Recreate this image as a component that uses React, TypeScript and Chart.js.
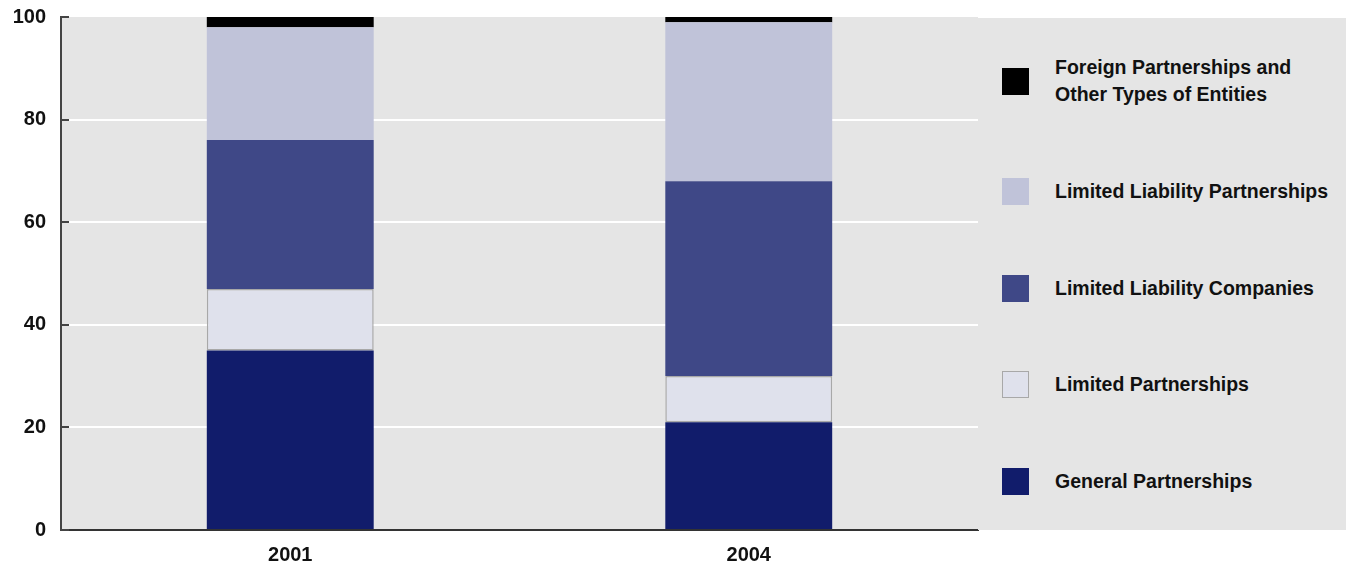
import React, { useEffect, useRef } from "react";
import { Chart, registerables } from "chart.js";

Chart.register(...registerables);

const categories = ["2001", "2004"];
const seriesNames = [
  "General Partnerships",
  "Limited Partnerships",
  "Limited Liability Companies",
  "Limited Liability Partnerships",
  "Foreign Partnerships and Other Types of Entities",
];
const generalPartnerships = [35, 21];
const limitedPartnerships = [12, 9];
const limitedLiabilityCompanies = [29, 38];
const limitedLiabilityPartnerships = [22, 31];
const foreignAndOther = [2, 1];
const yTicks = [0, 20, 40, 60, 80, 100];

const colors = ["#111c6b", "#dfe1ec", "#3f4887", "#c0c3d9", "#000000"];
const borders = ["#111c6b", "#a8a8a8", "#3f4887", "#c0c3d9", "#000000"];
const borderWidths = [0, 1.5, 0, 0, 0];
const legendLines = [
  ["Foreign Partnerships and", "Other Types of Entities"],
  ["Limited Liability Partnerships"],
  ["Limited Liability Companies"],
  ["Limited Partnerships"],
  ["General Partnerships"],
];
const legendColorIdx = [4, 3, 2, 1, 0];
const legendCenters = [81, 191, 288, 384, 481];

const FONT = "'Liberation Sans', Arial, sans-serif";

const bgPlugin = {
  id: "bgPlugin",
  beforeDraw(chart: any) {
    const { ctx, chartArea } = chart;
    ctx.save();
    ctx.fillStyle = "#e5e5e5";
    ctx.fillRect(chartArea.left, chartArea.top, chartArea.right - chartArea.left, chartArea.bottom - chartArea.top);
    ctx.restore();
  },
  afterDraw(chart: any) {
    const { ctx, chartArea } = chart;
    const y = chart.scales.y;
    ctx.save();
    ctx.strokeStyle = "#444";
    ctx.lineWidth = 2;
    yTicks.forEach((v) => {
      const py = Math.round(y.getPixelForValue(v));
      ctx.beginPath();
      ctx.moveTo(chartArea.left, py);
      ctx.lineTo(chartArea.left + 8, py);
      ctx.stroke();
    });
    ctx.restore();
  },
};

export default function App() {
  const ref = useRef<HTMLCanvasElement>(null);
  useEffect(() => {
    document.body.style.margin = "0";
    const data = [
      generalPartnerships,
      limitedPartnerships,
      limitedLiabilityCompanies,
      limitedLiabilityPartnerships,
      foreignAndOther,
    ];
    const chart = new Chart(ref.current as HTMLCanvasElement, {
      type: "bar",
      data: {
        labels: categories,
        datasets: data.map((d, i) => ({
          label: seriesNames[i],
          data: d,
          backgroundColor: colors[i],
          borderColor: borders[i],
          borderWidth: borderWidths[i],
          borderSkipped: false,
          barPercentage: 0.364,
          categoryPercentage: 1,
        })),
      },
      options: {
        animation: false,
        responsive: false,
        maintainAspectRatio: false,
        layout: { padding: { top: 17, right: 368, left: 0, bottom: 0 } },
        plugins: { legend: { display: false }, tooltip: { enabled: false } },
        scales: {
          x: {
            stacked: true,
            grid: { display: false, drawTicks: false },
            border: { display: true, color: "#333", width: 2 },
            ticks: { color: "#111", font: { family: FONT, size: 20, weight: "bold" }, padding: 13 },
            afterFit(scale: any) {
              scale.height = 39;
              scale.paddingLeft = 0;
              scale.paddingRight = 0;
            },
          },
          y: {
            stacked: true,
            min: 0,
            max: 100,
            afterBuildTicks(scale: any) {
              scale.ticks = yTicks.map((v) => ({ value: v }));
            },
            grid: {
              drawTicks: false,
              color: (c: any) => (c.tick && c.tick.value > 0 && c.tick.value < 100 ? "#ffffff" : "rgba(0,0,0,0)"),
              lineWidth: 2,
            },
            border: { display: true, color: "#444", width: 2 },
            ticks: { color: "#111", font: { family: FONT, size: 20, weight: "bold" }, padding: 15 },
            afterFit(scale: any) {
              scale.width = 61;
              scale.paddingTop = 0;
              scale.paddingBottom = 0;
            },
          },
        },
      },
      plugins: [bgPlugin],
    });
    return () => chart.destroy();
  }, []);

  return (
    <div style={{ position: "relative", width: 1346, height: 569, fontFamily: FONT }}>
      <canvas ref={ref} width={1346} height={569} style={{ width: 1346, height: 569, display: "block" }} />
      <div style={{ position: "absolute", left: 978, top: 18, width: 368, height: 512, background: "#e5e5e5" }} />
      {legendLines.map((lines, i) => {
        const ci = legendColorIdx[i];
        const cy = legendCenters[i];
        return (
          <React.Fragment key={i}>
            <div
              style={{
                position: "absolute",
                left: 1002,
                top: cy - 13.5,
                width: 27,
                height: 27,
                boxSizing: "border-box",
                background: colors[ci],
                border: borderWidths[ci] ? `1.5px solid ${borders[ci]}` : "none",
              }}
            />
            <div
              style={{
                position: "absolute",
                left: 1055,
                top: cy - (lines.length * 27) / 2,
                lineHeight: "27px",
                fontSize: 19.5,
                fontWeight: "bold",
                color: "#111",
                whiteSpace: "nowrap",
              }}
            >
              {lines.map((l, j) => (
                <div key={j}>{l}</div>
              ))}
            </div>
          </React.Fragment>
        );
      })}
    </div>
  );
}
